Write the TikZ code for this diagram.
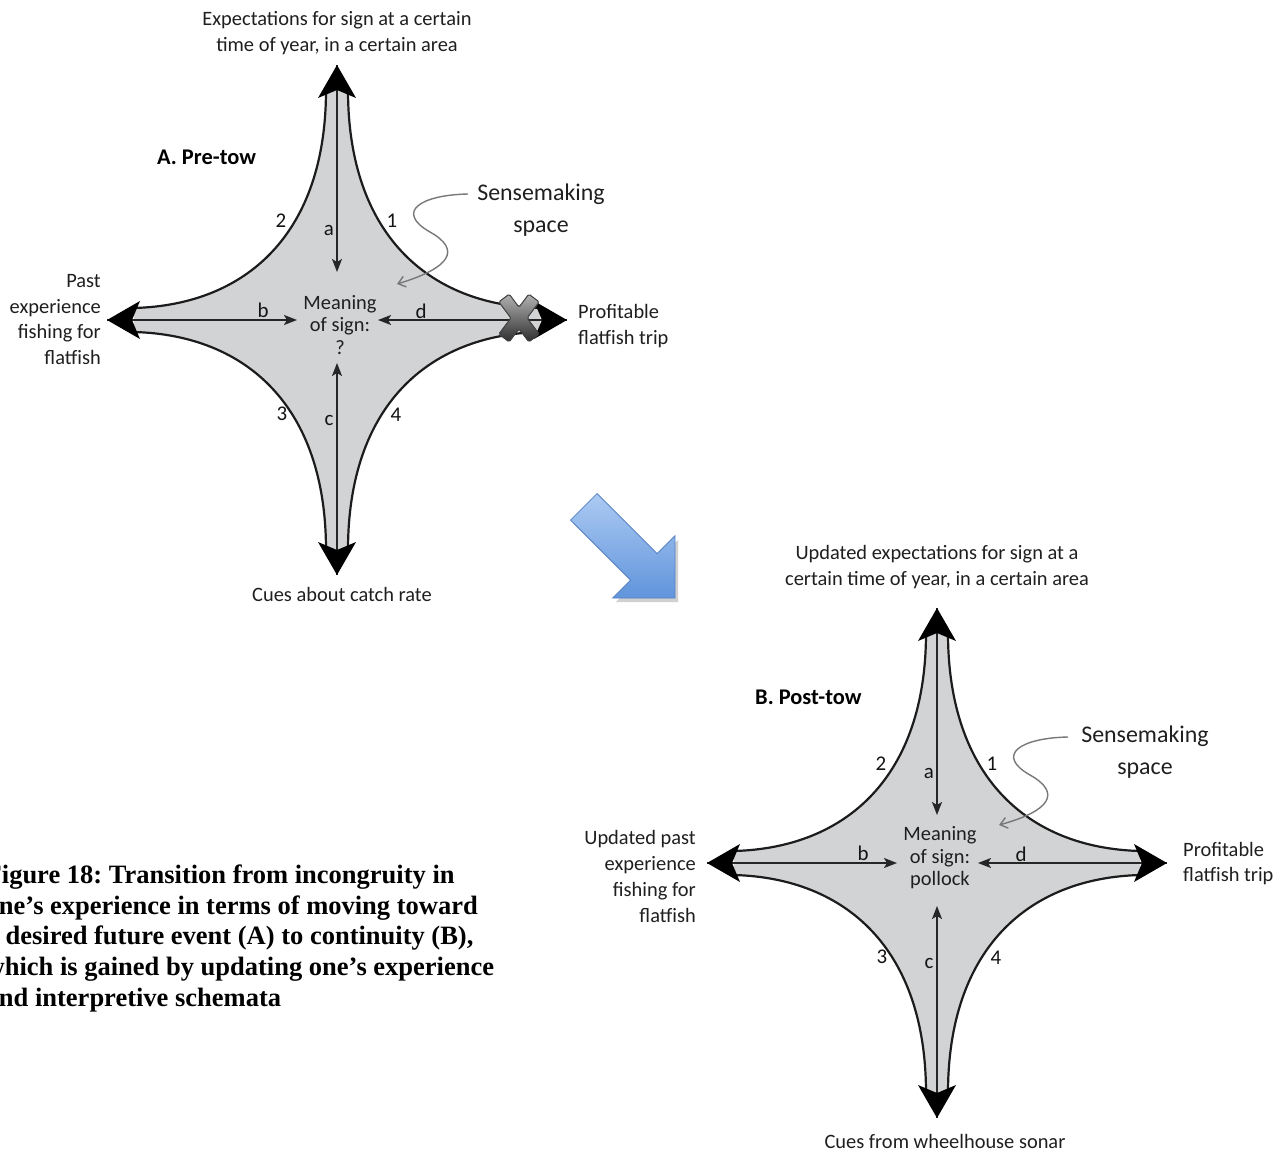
\documentclass[tikz,border=0pt]{standalone}
\usepackage{fontspec}
\setmainfont{Carlito}
\newfontfamily\captionserif{Liberation Serif}
\usetikzlibrary{arrows.meta}
\frenchspacing

\definecolor{starfill}{RGB}{209,211,212}
\definecolor{rimcol}{RGB}{28,28,28}
\definecolor{squig}{RGB}{120,120,120}
\definecolor{bluelight}{RGB}{172,202,242}
\definecolor{bluedark}{RGB}{96,148,220}
\definecolor{blueedge}{RGB}{86,130,196}

\tikzset{
  starbody/.style={fill=starfill},
  rim/.style={draw=rimcol, line width=2.2bp},
  axisline/.style={draw=black!85, line width=1.8bp,
    -{Stealth[length=13bp,width=10bp,inset=3bp]}},
  bighead/.style={fill=black},
  txt/.style={font=\fontsize{20.5}{26}\selectfont, inner sep=0pt, text=black!88},
  meantxt/.style={font=\fontsize{20.5}{22.5}\selectfont, inner sep=0pt, align=center, text=black!88},
  lbl/.style={font=\fontsize{21}{24}\selectfont, inner sep=0pt, text=black!92},
  titletxt/.style={font=\bfseries\fontsize{22.5}{26}\selectfont, inner sep=0pt, anchor=west},
  sensetxt/.style={font=\fontsize{24}{32}\selectfont, inner sep=0pt, align=center, text=black!88},
  squiggle/.style={draw=squig, line width=1.4bp, -{Straight Barb[length=7bp,width=11bp]}},
  xmark/.style={draw=black!75, line width=1bp, top color=black!30, bottom color=black!82,
    rounded corners=1.5bp},
  captxt/.style={font=\captionserif\bfseries\fontsize{26.6}{30.8}\selectfont,
    inner sep=0pt, align=left, anchor=north west},
  % four-armed sensemaking shape, centred on the pic position
  sensestar/.pic={
    \fill[starbody] (-11,-230) .. controls (-11,-87) and (-90,-15) .. (-203,-12)
      -- (-203,12) .. controls (-90,15) and (-11,87) .. (-11,230)
      -- (11,230) .. controls (11,87) and (90,15) .. (203,12)
      -- (203,-12) .. controls (90,-15) and (11,-87) .. (11,-230) -- cycle;
    \draw[rim] (-11,-230) .. controls (-11,-87) and (-90,-15) .. (-203,-12);
    \draw[rim] (-203,12) .. controls (-90,15) and (-11,87) .. (-11,230);
    \draw[rim] (11,230) .. controls (11,87) and (90,15) .. (203,12);
    \draw[rim] (203,-12) .. controls (90,-15) and (11,-87) .. (11,-230);
    % arm tips and inner arrow ends
    \coordinate (-n) at (0,-255);
    \coordinate (-s) at (0,255);
    \coordinate (-w) at (-230,0);
    \coordinate (-e) at (230,0);
    \coordinate (-na) at (0,-48);
    \coordinate (-sa) at (0,43);
    \coordinate (-wa) at (-40,0);
    \coordinate (-ea) at (41,0);
    \draw[axisline] (-n) -- (-na);
    \draw[axisline] (-s) -- (-sa);
    \draw[axisline] (-w) -- (-wa);
    \draw[axisline] (-e) -- (-ea);
    % large arrowheads at the arm tips
    \fill[bighead, shift={(0,-255)}, rotate=90]
      (0,0) -- (-33,19) -- (-25,0) -- (-33,-19) -- cycle;
    \fill[bighead, shift={(0,255)}, rotate=-90]
      (0,0) -- (-33,19) -- (-25,0) -- (-33,-19) -- cycle;
    \fill[bighead, shift={(-230,0)}, rotate=180]
      (0,0) -- (-33,19) -- (-25,0) -- (-33,-19) -- cycle;
    \fill[bighead, shift={(230,0)}]
      (0,0) -- (-33,19) -- (-25,0) -- (-33,-19) -- cycle;
    % letters on the axes, numbers on the rims
    \node[lbl] (-la) at (-8,-90) {a};
    \node[lbl] (-lb) at (-74,-10) {b};
    \node[lbl] (-lc) at (-8,100) {c};
    \node[lbl] (-ld) at (84,-9) {d};
    \node[lbl] (-l1) at (55,-99) {1};
    \node[lbl] (-l2) at (-56,-99) {2};
    \node[lbl] (-l3) at (-55,94) {3};
    \node[lbl] (-l4) at (59,95) {4};
  }
}

\begin{document}
\begin{tikzpicture}[x=1bp, y=-1bp]
  \useasboundingbox (0,0) rectangle (1286,1152);
  \fill[white] (0,0) rectangle (1286,1152);
  \clip (0,0) rectangle (1286,1152);

  % ---------- A. Pre-tow ----------
  \pic (A) at (337,320) {sensestar};
  \fill[xmark, shift={(519,318)}]
    (20.2,16.1) -- (9.8,23.9) -- (0,10.8) -- (-9.8,23.9) -- (-20.2,16.1) -- (-8.1,0)
    -- (-20.2,-16.1) -- (-9.8,-23.9) -- (0,-10.8) -- (9.8,-23.9) -- (20.2,-16.1) -- (8.1,0) -- cycle;

  \node[txt, align=center] (A-top) at (337,33)
    {Expectations for sign at a certain\\time of year, in a certain area};
  \node[txt] (A-bot) at (342,594) {Cues about catch rate};
  \node[txt, align=right, anchor=east] (A-left) at (101,319.5)
    {Past\\experience\\fishing for\\flatfish};
  \node[txt, align=left, anchor=west] (A-right) at (578,326)
    {Profitable\\flatfish trip};
  \node[meantxt] (A-mean) at (340,325) {Meaning\\of sign:\\?};
  \node[titletxt] (A-title) at (157,157) {A. Pre-tow};
  \node[sensetxt] (A-sense) at (541,210) {Sensemaking\\space};
  \coordinate (A-sq) at (468,194);
  \coordinate (A-sqend) at (397,284);
  \draw[squiggle] (A-sq) .. controls (420,195) and (395,212) .. (430,232)
    .. controls (462,250) and (450,268) .. (A-sqend);

  % ---------- transition arrow ----------
  \begin{scope}[shift={(678,602)}, rotate=-45]
    \fill[black, opacity=0.18]
      (-129,-18.7) -- (-44,-18.7) -- (-44,-44) -- (0,0) -- (-44,44) -- (-44,18.7) -- (-129,18.7) -- cycle;
  \end{scope}
  \begin{scope}[shift={(675,598)}, rotate=-45]
    \path[draw=blueedge, line width=0.8bp, top color=bluelight, bottom color=bluedark]
      (-129,-18.7) -- (-44,-18.7) -- (-44,-44) -- (0,0) -- (-44,44) -- (-44,18.7) -- (-129,18.7) -- cycle;
  \end{scope}

  % ---------- B. Post-tow ----------
  \pic (B) at (937,863) {sensestar};
  \node[txt, align=center] (B-top) at (937,567)
    {Updated expectations for sign at a\\certain time of year, in a certain area};
  \node[txt] (B-bot) at (945,1141) {Cues from wheelhouse sonar};
  \node[txt, align=right, anchor=east] (B-left) at (696,876.5)
    {Updated past\\experience\\fishing for\\flatfish};
  \node[txt, align=left, anchor=west] (B-right) at (1183,863.5)
    {Profitable\\flatfish trip};
  \node[meantxt] (B-mean) at (940,858) {Meaning\\of sign:\\pollock};
  \node[titletxt] (B-title) at (755,697) {B. Post-tow};
  \node[sensetxt] (B-sense) at (1145,752) {Sensemaking\\space};
  \coordinate (B-sq) at (1068,737);
  \coordinate (B-sqend) at (999,825);
  \draw[squiggle] (B-sq) .. controls (1020,738) and (995,755) .. (1030,775)
    .. controls (1062,793) and (1050,811) .. (B-sqend);

  % ---------- caption ----------
  \node[captxt] (cap) at (-14.5,864.5)
    {Figure 18: Transition from incongruity in\\
     one’s experience in terms of moving toward\\
     a desired future event (A) to continuity (B),\\
     which is gained by updating one’s experience\\
     and interpretive schemata};
\end{tikzpicture}
\end{document}
